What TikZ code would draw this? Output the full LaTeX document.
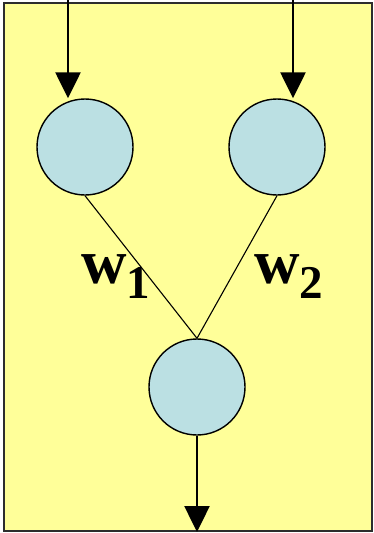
\documentclass[tikz,border=0pt]{standalone}
\usepackage{fontspec}
\setmainfont{Liberation Serif}
\usetikzlibrary{arrows.meta}
\definecolor{panelYellow}{RGB}{255,255,153}
\definecolor{neuronBlue}{RGB}{187,224,227}
\definecolor{panelBorder}{RGB}{45,45,45}
\begin{document}
\begin{tikzpicture}[x=1pt, y=-1pt]
% Two-input neuron, drawn on a 374 x 533 grid (y runs down)
\providecommand{\nnNeuronSize}{96pt}
\providecommand{\nnArrowWidth}{2.5pt}
\tikzset{
  neuron/.style={circle, draw=black, fill=neuronBlue, line width=1.4pt,
    minimum size=\nnNeuronSize, inner sep=0pt},
  signal/.style={line width=\nnArrowWidth, -{Triangle[width=25pt,length=26pt]}},
  weight/.style={line width=1.1pt},
  wlabel/.style={anchor=base west, inner sep=0pt, font=\fontsize{63pt}{63pt}\selectfont\bfseries}
}
\useasboundingbox (0,0) rectangle (374,533);
% Panel
\filldraw[fill=panelYellow, draw=panelBorder, line width=1.5pt] (4,3) rectangle (372,531);
% Neurons
\node[neuron] (in1) at (85,147) {};
\node[neuron] (in2) at (277,147) {};
\node[neuron] (out) at (197,387) {};
% Free ends of the signal arrows
\coordinate (src1) at (68,0);
\coordinate (src2) at (293,0);
\coordinate (sink) at (197,532);
% Inputs and output
\draw[signal] (src1) -- (src1 |- in1.north);
\draw[signal] (src2) -- (src2 |- in2.north);
\draw[signal] (out.south) -- (sink);
% Weighted connections
\draw[weight] (in1.south) -- (out.north);
\draw[weight] (in2.south) -- (out.north);
% Weight labels
\node[wlabel] (w1) at (81,283) {w\raisebox{-15pt}{\fontsize{47pt}{47pt}\selectfont 1}};
\node[wlabel] (w2) at (254,283) {w\raisebox{-15pt}{\fontsize{47pt}{47pt}\selectfont 2}};
\end{tikzpicture}
\end{document}
